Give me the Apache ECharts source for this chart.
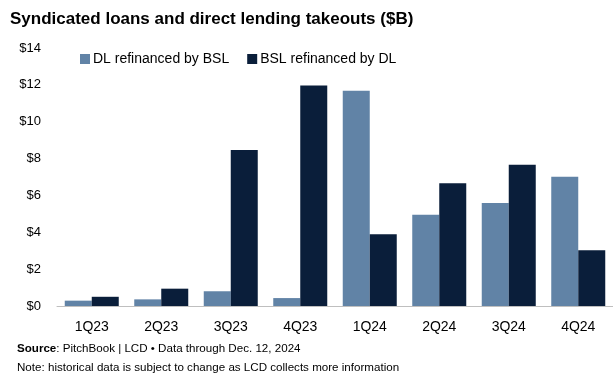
<!DOCTYPE html>
<html><head><meta charset="utf-8">
<script src="https://cdn.jsdelivr.net/npm/echarts@6/dist/echarts.min.js"></script>
<style>html,body{margin:0;padding:0;background:#fff}#c{width:613px;height:379px}</style>
</head><body><div id="c"></div>
<script>
const categories = ['1Q23','2Q23','3Q23','4Q23','1Q24','2Q24','3Q24','4Q24'];
const dlRefinancedByBSL = [0.29, 0.36, 0.80, 0.43, 11.68, 4.95, 5.59, 7.02];
const bslRefinancedByDL = [0.50, 0.94, 8.46, 11.97, 3.89, 6.66, 7.67, 3.02];
const seriesNames = ['DL refinanced by BSL', 'BSL refinanced by DL'];
const yTicks = {min: 0, max: 14, interval: 2};

const font = '"Liberation Sans", Arial, sans-serif';
const chart = echarts.init(document.getElementById('c'), null, {renderer: 'canvas'});
chart.setOption({
  animation: false,
  backgroundColor: '#ffffff',
  title: {
    text: 'Syndicated loans and direct lending takeouts ($B)',
    left: 5, top: 6,
    textStyle: {fontFamily: font, fontSize: 17, fontWeight: 'bold', color: '#000'}
  },
  legend: {
    data: seriesNames,
    left: 75, top: 47,
    itemWidth: 10, itemHeight: 10, itemGap: 18,
    icon: 'rect',
    textStyle: {fontFamily: font, fontSize: 14, color: '#000', padding: [0,0,0,-2]}
  },
  grid: {left: 57, right: -8, top: 48, bottom: 73, containLabel: false},
  xAxis: {
    type: 'category', data: categories,
    axisLine: {lineStyle: {color: '#bfbfbf', width: 1}},
    axisTick: {show: false},
    axisLabel: {fontFamily: font, fontSize: 14, color: '#000', margin: 14}
  },
  yAxis: {
    type: 'value', min: yTicks.min, max: yTicks.max, interval: yTicks.interval,
    axisLine: {show: false}, axisTick: {show: false}, splitLine: {show: false},
    axisLabel: {fontFamily: font, fontSize: 13, color: '#000', margin: 16, formatter: v => '$' + v}
  },
  series: [
    {name: seriesNames[0], type: 'bar', data: dlRefinancedByBSL, barWidth: 27, barGap: '0%',
     itemStyle: {color: '#6183a6'}},
    {name: seriesNames[1], type: 'bar', data: bslRefinancedByDL, barWidth: 27,
     itemStyle: {color: '#0a1e3a'}}
  ],
  graphic: [
    {type: 'text', left: 17, top: 343, style: {
      text: '{b|Source}: PitchBook | LCD • Data through Dec. 12, 2024',
      rich: {b: {fontFamily: font, fontSize: 11.6, fontWeight: 'bold', fill: '#000'}},
      font: '11.6px ' + font, fill: '#000'}},
    {type: 'text', left: 17, top: 362, style: {
      text: 'Note: historical data is subject to change as LCD collects more information',
      font: '11.6px ' + font, fill: '#000'}}
  ]
});
</script></body></html>
